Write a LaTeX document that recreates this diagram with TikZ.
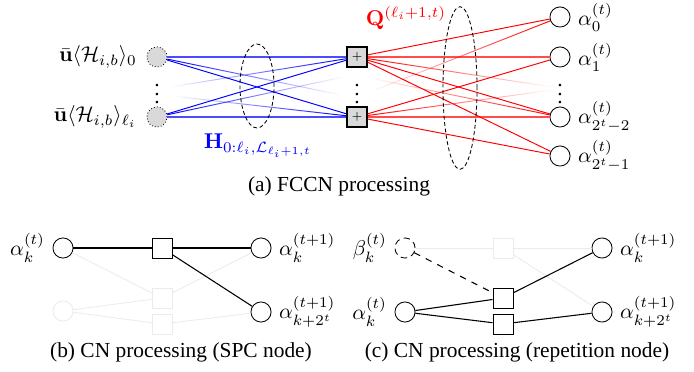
\documentclass[tikz,border=0pt]{standalone}
\usepackage[no-math]{fontspec}
\setmainfont{Liberation Serif}
\usepackage{amsmath}
\usepackage{amssymb}
\usetikzlibrary{positioning,shapes.geometric,fadings}
\tikzfading[name=fadeR, left color=transparent!0, middle color=transparent!0, right color=transparent!100]
\tikzfading[name=fadeL, left color=transparent!100, middle color=transparent!0, right color=transparent!0]
\tikzset{
	vnode/.style={circle, draw, minimum size=9.4pt, inner sep=0pt},
	gnode/.style={vnode, densely dotted, fill=gray!30},
	cnode/.style={rectangle, draw, minimum size=9.4pt, inner sep=0pt},
	pnode/.style={cnode, semithick, fill=gray!30, font=\tiny},
	ghost/.style={draw=black!8},
	ellip/.style={ellipse, draw, dash pattern=on 1.8pt off 1.2pt, inner sep=0pt},
	bedge/.style={blue, line width=0.45pt},
	bmain/.style={blue!70, line width=0.9pt},
	redge/.style={red, line width=0.45pt},
	rmain/.style={red!70, line width=0.9pt},
	kedge/.style={line width=0.5pt},
}

\begin{document}
\begin{tikzpicture}[x=0.467pt, y=-0.467pt]
		\useasboundingbox (0,0) rectangle (694,372);
		% (a) FCCN
		\node[gnode] (vn0) at (157,57) {};
		\node[gnode] (vn1) at (157,117) {};
		\node (vd) at (157,88) {$\vdots$};
		\node[pnode] (cn0) at (357,57) {$+$};
		\node[pnode] (cn1) at (357,117) {$+$};
		\node (cd) at (357,88) {$\vdots$};
		\foreach \i/\y in {0/17,1/57,2/117,3/156}
			\node[vnode] (an\i) at (560,\y) {};
		\node (ad) at (560,88) {$\vdots$};
		\node[left=1pt of vn0] (lu0) {$\bar{\mathbf{u}}\langle\mathcal{H}_{i,b}\rangle_0$};
		\node[left=1pt of vn1] (lu1) {$\bar{\mathbf{u}}\langle\mathcal{H}_{i,b}\rangle_{\ell_i}$};
		\node[right=0pt of an0] (la0) {$\alpha_0^{(t)}$};
		\node[right=0pt of an1] (la1) {$\alpha_1^{(t)}$};
		\node[right=0pt of an2] (la2) {$\alpha_{2^t-2}^{(t)}$};
		\node[right=0pt of an3] (la3) {$\alpha_{2^t-1}^{(t)}$};

		\coordinate (bL0) at (170,87);
		\coordinate (bL1) at (172,96);
		\coordinate (bR0) at (343,77);
		\coordinate (bR1) at (341,95);
		\coordinate (rL0) at (370,78);
		\coordinate (rL1) at (370,92);
		\coordinate (rR0) at (552,87);
		\coordinate (rR1) at (552,90);

		\draw[bmain] (vn0) -- (cn0);
		\draw[bmain] (vn1) -- (cn1);
		\draw[bedge] (vn0) -- (cn1);
		\draw[bedge] (vn1) -- (cn0);
		\draw[bedge, path fading=fadeR] (vn0) -- (bR1);
		\draw[bedge, path fading=fadeR] (vn1) -- (bR0);
		\draw[bedge, path fading=fadeL] (bL0) -- (cn0);
		\draw[bedge, path fading=fadeL] (bL1) -- (cn1);

		\draw[rmain] (cn0) -- (an1);
		\draw[rmain] (cn1) -- (an2);
		\foreach \a/\b in {cn0/an0,cn0/an2,cn0/an3,cn1/an1,cn1/an3}
			\draw[redge] (\a) -- (\b);
		\draw[redge, path fading=fadeR] (cn0) -- (rR0);
		\draw[redge, path fading=fadeR] (cn1) -- (rR1);
		\draw[redge, path fading=fadeL] (rL0) -- (an2);
		\draw[redge, path fading=fadeL] (rL1) -- (an0);

		\node[ellip, minimum width=15.9pt, minimum height=39.2pt] (eH) at (257,86) {};
		\node[ellip, minimum width=15.9pt, minimum height=76pt] (eQ) at (460,88) {};
		\node[blue] (lH) at (258,146) {$\mathbf{H}_{0:\ell_i,\mathcal{L}_{\ell_i+1,t}}$};
		\node[red] (lQ) at (406,18) {$\mathbf{Q}^{(\ell_i+1,t)}$};
		\node (capa) at (339,186) {(a) FCCN processing};

		% (b) SPC node
		\node[vnode, ghost] (bkf) at (63,311) {};
		\node[cnode, ghost] (bsf0) at (162,298) {};
		\node[cnode, ghost] (bsf1) at (162,324) {};
		\node[vnode] (bk) at (63,248) {};
		\node[cnode] (bs) at (162,248) {};
		\node[vnode] (br0) at (261,248) {};
		\node[vnode] (br1) at (261,312) {};
		\foreach \a/\b in {bk/bsf0,bkf/bsf0,bkf/bsf1,bsf0/br0,bsf1/br1}
			\draw[black!8] (\a) -- (\b);
		\draw[kedge] (bk) -- (bs);
		\draw[kedge] (bs) -- (br0);
		\draw[kedge] (bs) -- (br1);
		\node[left=0pt of bk] (lbk) {$\alpha_k^{(t)}$};
		\node[right=0pt of br0] (lbr0) {$\alpha_k^{(t+1)}$};
		\node[right=0pt of br1] (lbr1) {$\alpha_{k+2^t}^{(t+1)}$};
		\node (capb) at (181,352) {(b) CN processing (SPC node)};

		% (c) repetition node
		\node[cnode, ghost] (csf) at (503,248) {};
		\node[vnode, densely dashed] (cb) at (405,248) {};
		\node[vnode] (ca) at (405,312) {};
		\node[cnode] (cs0) at (503,298) {};
		\node[cnode] (cs1) at (503,324) {};
		\node[vnode] (cr0) at (602,248) {};
		\node[vnode] (cr1) at (602,312) {};
		\foreach \a/\b in {cb/csf,csf/cr0,csf/cr1}
			\draw[black!8] (\a) -- (\b);
		\draw[kedge, dashed] (cb) -- (cs0);
		\draw[kedge] (ca) -- (cs0);
		\draw[kedge] (ca) -- (cs1);
		\draw[kedge] (cs0) -- (cr0);
		\draw[kedge] (cs1) -- (cr1);
		\node[left=0pt of cb] (lcb) {$\beta_k^{(t)}$};
		\node[left=0pt of ca] (lca) {$\alpha_k^{(t)}$};
		\node[right=0pt of cr0] (lcr0) {$\alpha_k^{(t+1)}$};
		\node[right=0pt of cr1] (lcr1) {$\alpha_{k+2^t}^{(t+1)}$};
		\node (capc) at (517,352) {(c) CN processing (repetition node)};
	\end{tikzpicture}
\end{document}
